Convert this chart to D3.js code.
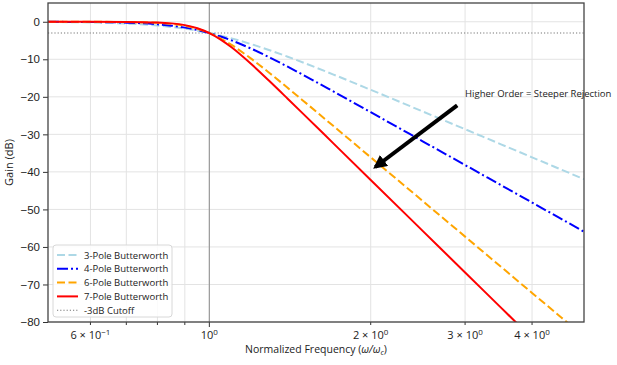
<!DOCTYPE html>
<html>
<head>
  <style>
    body { margin: 0; background: #fff; overflow: hidden; }
    svg { display: block; font-family: "Open Sans", Roboto, sans-serif; }
  </style>
</head>
<body>
  <script src="https://cdn.jsdelivr.net/npm/d3@7"></script>
  <script>
// values
const freq  = [0.5, 0.6, 0.7, 0.8, 0.85, 0.9, 0.95, 1.0, 1.05, 1.1, 1.2, 1.3, 1.4, 1.5, 1.7, 2.0, 2.5, 3.0, 3.5, 4.0, 4.5, 5.0];
const gain3 = [-0.07, -0.20, -0.48, -1.01, -1.39, -1.85, -2.39, -3.01, -3.69, -4.43, -6.01, -7.65, -9.31, -10.93, -14.00, -18.13, -23.89, -28.63, -32.65, -36.12, -39.19, -41.94];
const gain4 = [-0.02, -0.07, -0.24, -0.67, -1.05, -1.56, -2.21, -3.01, -3.94, -4.97, -7.24, -9.62, -11.98, -14.25, -18.50, -24.10, -31.84, -38.17, -43.53, -48.17, -52.26, -55.92];
const gain6 = [0, -0.01, -0.06, -0.29, -0.58, -1.08, -1.88, -3.01, -4.47, -6.17, -9.96, -13.86, -17.61, -21.16, -27.66, -36.12, -47.75, -57.25, -65.29, -72.25, -78.39, -83.88];
const gain7 = [0, 0, -0.03, -0.19, -0.43, -0.90, -1.73, -3.01, -4.74, -6.81, -11.41, -16.06, -20.50, -24.67, -32.27, -42.14, -55.71, -66.80, -76.17, -84.29, -91.45, -97.86];

const seriesNames = ["3-Pole Butterworth", "4-Pole Butterworth", "6-Pole Butterworth", "7-Pole Butterworth"];
const yTicks = [0, -10, -20, -30, -40, -50, -60, -70, -80];
const xMajor = [1];
const xMinor = [0.6, 0.7, 0.8, 0.9, 2, 3, 4];
const xMinorLabels = { 0.6: ["6", "−1"], 2: ["2", "0"], 3: ["3", "0"], 4: ["4", "0"] };
const cutoffDb = -3;
const annotation = { text: "Higher Order = Steeper Rejection", textAt: [3, -20], from: [2.9, -22.3], to: [2.04, -38.7] };

const width = 617, height = 365;
const margin = { top: 3, right: 33, bottom: 43, left: 48 };
const innerWidth = width - margin.left - margin.right;
const innerHeight = height - margin.top - margin.bottom;

const svg = d3.select("body").append("svg")
  .attr("width", width)
  .attr("height", height);

const g = svg.append("g")
  .attr("transform", `translate(${margin.left},${margin.top})`);

const x = d3.scaleLog().domain([0.5, 5]).range([0, innerWidth]);
const y = d3.scaleLinear().domain([-80, 5]).range([innerHeight, 0]);

g.append("clipPath").attr("id", "clip")
  .append("rect").attr("width", innerWidth).attr("height", innerHeight);

// grid
g.append("g").selectAll("line")
  .data(xMajor.concat(xMinor))
  .join("line")
  .attr("x1", d => x(d)).attr("x2", d => x(d))
  .attr("y1", 0).attr("y2", innerHeight)
  .attr("stroke", "#e3e3e3").attr("stroke-width", 1);

g.append("g").selectAll("line")
  .data(yTicks)
  .join("line")
  .attr("x1", 0).attr("x2", innerWidth)
  .attr("y1", d => y(d)).attr("y2", d => y(d))
  .attr("stroke", "#e3e3e3").attr("stroke-width", 1);

// cutoff markers
g.append("line")
  .attr("x1", x(1)).attr("x2", x(1))
  .attr("y1", 0).attr("y2", innerHeight)
  .attr("stroke", "#9a9a9a").attr("stroke-width", 1.2);

g.append("line")
  .attr("x1", 0).attr("x2", innerWidth)
  .attr("y1", y(cutoffDb)).attr("y2", y(cutoffDb))
  .attr("stroke", "#777").attr("stroke-width", 1.1)
  .attr("stroke-dasharray", "1.2,2");

// curves
const series = [
  { name: seriesNames[0], values: gain3, color: "#add8e6", dash: "8,3.5" },
  { name: seriesNames[1], values: gain4, color: "#0000ff", dash: "11,3,2,3" },
  { name: seriesNames[2], values: gain6, color: "#ffa500", dash: "8,3.5" },
  { name: seriesNames[3], values: gain7, color: "#ff0000", dash: null }
];

const line = d3.line()
  .x((d, i) => x(freq[i]))
  .y(d => y(d))
  .curve(d3.curveMonotoneX);

g.append("g").attr("clip-path", "url(#clip)")
  .selectAll("path")
  .data(series)
  .join("path")
  .attr("d", d => line(d.values))
  .attr("fill", "none")
  .attr("stroke", d => d.color)
  .attr("stroke-width", 2)
  .attr("stroke-dasharray", d => d.dash);

// axes
const yAxis = d3.axisLeft(y).tickValues(yTicks).tickSize(5).tickPadding(3)
  .tickFormat(d => d < 0 ? "−" + Math.abs(d) : d);
const yG = g.append("g").call(yAxis);
yG.select(".domain").remove();
yG.selectAll("line").attr("stroke", "#333");
yG.selectAll("text").attr("font-size", 11.5).attr("fill", "#222");

const xG = g.append("g").attr("transform", `translate(0,${innerHeight})`);
xG.selectAll("line.major")
  .data(xMajor).join("line")
  .attr("x1", d => x(d)).attr("x2", d => x(d))
  .attr("y1", 0).attr("y2", 5).attr("stroke", "#333");
xG.selectAll("line.minor")
  .data(xMinor).join("line")
  .attr("x1", d => x(d)).attr("x2", d => x(d))
  .attr("y1", 0).attr("y2", 3).attr("stroke", "#333");

const xLabels = xMajor.map(d => ({ v: d, parts: ["", "0"] }))
  .concat(xMinor.filter(d => xMinorLabels[d]).map(d => ({ v: d, parts: xMinorLabels[d] })));

xLabels.forEach(l => {
  const t = xG.append("text")
    .attr("x", x(l.v)).attr("y", 16.5)
    .attr("text-anchor", "middle")
    .attr("font-size", 11).attr("fill", "#222");
  t.append("tspan").text(l.parts[0] ? l.parts[0] + " × 10" : "10");
  t.append("tspan").attr("dy", -4).attr("font-size", 8).text(l.parts[1]);
});

// frame
g.append("rect")
  .attr("width", innerWidth).attr("height", innerHeight)
  .attr("fill", "none").attr("stroke", "#444").attr("stroke-width", 1.3);

// axis titles
const xTitle = svg.append("text")
  .attr("x", margin.left + innerWidth / 2).attr("y", 353)
  .attr("text-anchor", "middle").attr("font-size", 10.5).attr("fill", "#222");
xTitle.append("tspan").text("Normalized Frequency (");
xTitle.append("tspan").attr("font-style", "italic").text("ω/ω");
xTitle.append("tspan").attr("font-style", "italic").attr("font-size", 7.5).attr("dy", 2).text("c");
xTitle.append("tspan").attr("dy", -2).text(")");

svg.append("text")
  .attr("transform", `translate(13,${margin.top + innerHeight / 2}) rotate(-90)`)
  .attr("text-anchor", "middle").attr("font-size", 11).attr("fill", "#222")
  .text("Gain (dB)");

// legend
const legend = g.append("g").attr("transform", "translate(5,242)");
legend.append("rect")
  .attr("width", 119).attr("height", 72).attr("rx", 3)
  .attr("fill", "#fff").attr("fill-opacity", 0.85)
  .attr("stroke", "#d8d8d8");

const legendItems = series.map(s => ({ name: s.name, color: s.color, dash: s.dash, w: 2 }))
  .concat([{ name: "-3dB Cutoff", color: "#777", dash: "1.2,2", w: 1.1 }]);

const li = legend.selectAll("g.item")
  .data(legendItems).join("g")
  .attr("transform", (d, i) => `translate(0,${10 + i * 13.8})`);
li.append("line")
  .attr("x1", 4).attr("x2", 25)
  .attr("stroke", d => d.color).attr("stroke-width", d => d.w)
  .attr("stroke-dasharray", d => d.dash);
li.append("text")
  .attr("x", 31).attr("y", 3.5)
  .attr("font-size", 9.5).attr("fill", "#222")
  .text(d => d.name);

// annotation
const defs = svg.append("defs");
defs.append("marker").attr("id", "head")
  .attr("viewBox", "0 0 10 10").attr("refX", 8).attr("refY", 5)
  .attr("markerWidth", 3.4).attr("markerHeight", 3.4)
  .attr("orient", "auto")
  .append("path").attr("d", "M0,0 L10,5 L0,10 z").attr("fill", "#000");

g.append("line")
  .attr("x1", x(annotation.from[0])).attr("y1", y(annotation.from[1]))
  .attr("x2", x(annotation.to[0])).attr("y2", y(annotation.to[1]))
  .attr("stroke", "#000").attr("stroke-width", 4)
  .attr("marker-end", "url(#head)");

g.append("text")
  .attr("x", x(annotation.textAt[0])).attr("y", y(annotation.textAt[1]))
  .attr("font-size", 9.5).attr("fill", "#222")
  .text(annotation.text);
  </script>
</body>
</html>
